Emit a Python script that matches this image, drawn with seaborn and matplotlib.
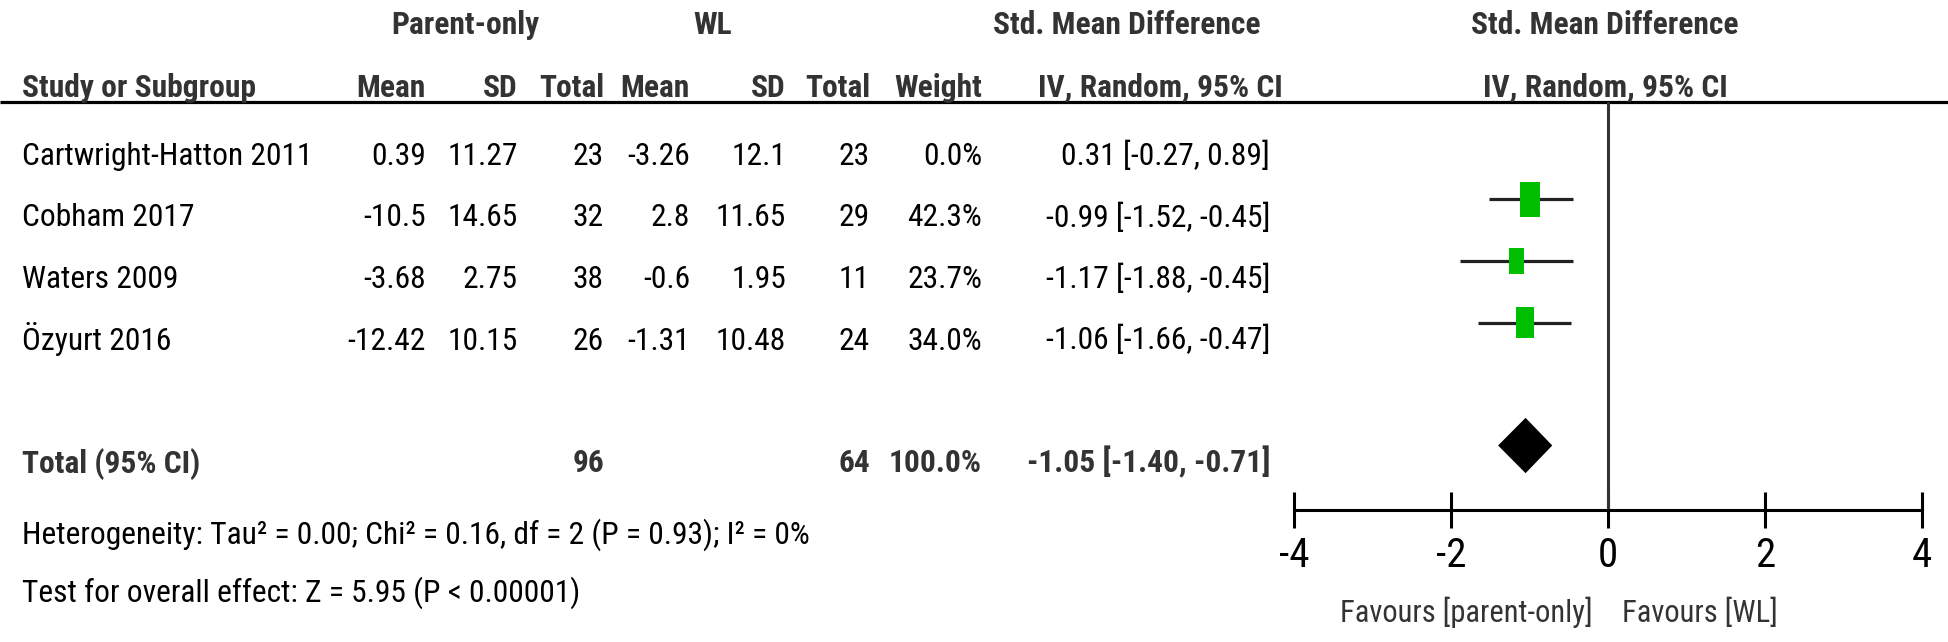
import numpy as np
import pandas as pd
import seaborn as sns
import matplotlib.pyplot as plt
from matplotlib import font_manager
from matplotlib.patches import Rectangle, Polygon

# study data
studies = ["Cartwright-Hatton 2011", "Cobham 2017", "Waters 2009", "Özyurt 2016"]
po_mean = ["0.39", "-10.5", "-3.68", "-12.42"]
po_sd = ["11.27", "14.65", "2.75", "10.15"]
po_n = [23, 32, 38, 26]
wl_mean = ["-3.26", "2.8", "-0.6", "-1.31"]
wl_sd = ["12.1", "11.65", "1.95", "10.48"]
wl_n = [23, 29, 11, 24]
weight = [0.0, 42.3, 23.7, 34.0]
smd = [0.31, -0.99, -1.17, -1.06]
ci_lo = [-0.27, -1.52, -1.88, -1.66]
ci_hi = [0.89, -0.45, -0.45, -0.47]

total_po = 96
total_wl = 64
total_weight = 100.0
total_smd = -1.05
total_lo = -1.40
total_hi = -0.71

heterogeneity = "Heterogeneity: Tau² = 0.00; Chi² = 0.16, df = 2 (P = 0.93); I² = 0%"
overall = "Test for overall effect: Z = 5.95 (P < 0.00001)"
xticks = [-4, -2, 0, 2, 4]

df = pd.DataFrame({"study": studies, "weight": weight, "smd": smd,
                   "lo": ci_lo, "hi": ci_hi})
df["row"] = np.arange(len(df))
total_row = len(df) + 1

sns.set_theme(style="white")
installed = {f.name for f in font_manager.fontManager.ttflist}
narrow = [f for f in ["Liberation Sans Narrow", "Arial Narrow", "Roboto Condensed",
                      "Roboto", "Liberation Sans"] if f in installed]
plt.rcParams["font.family"] = narrow[:1] + ["DejaVu Sans"]

W, H = 1949, 642
fig = plt.figure(figsize=(W / 100, H / 100), dpi=100)

# table layer in pixel coordinates
tab = fig.add_axes([0, 0, 1, 1])
tab.set_xlim(0, W)
tab.set_ylim(H, 0)
tab.axis("off")

# pick the font size so the study names are about as wide as in the original
probe = tab.text(0, 0, studies[0], fontsize=25)
fig.canvas.draw()
pw = probe.get_window_extent().width
probe.remove()
fs = min(28, 25 * 292 / pw)
hdr = "#333333"


def base(i):
    return 165 + 61.5 * i


def put(x, y, s, ha="right", bold=False, color="black"):
    tab.text(x, y, s, ha=ha, va="baseline", fontsize=fs,
             fontweight="bold" if bold else "normal", color=color)


# headers
put(465, 34, "Parent-only", ha="center", bold=True, color=hdr)
put(713, 34, "WL", ha="center", bold=True, color=hdr)
put(1127, 34, "Std. Mean Difference", ha="center", bold=True, color=hdr)
put(1605, 34, "Std. Mean Difference", ha="center", bold=True, color=hdr)

cols = [("Mean", 426), ("SD", 518), ("Total", 604), ("Mean", 690),
        ("SD", 786), ("Total", 870), ("Weight", 982)]
put(22, 97, "Study or Subgroup", ha="left", bold=True, color=hdr)
for name, x in cols:
    put(x, 97, name, bold=True, color=hdr)
put(1283, 97, "IV, Random, 95% CI", bold=True, color=hdr)
put(1605, 97, "IV, Random, 95% CI", ha="center", bold=True, color=hdr)
tab.plot([0, W], [102, 102], color="black", lw=2.3, solid_capstyle="butt")

for i, r in df.iterrows():
    y = base(i)
    put(22, y, r["study"], ha="left")
    put(426, y, po_mean[i])
    put(518, y, po_sd[i])
    put(604, y, str(po_n[i]))
    put(690, y, wl_mean[i])
    put(786, y, wl_sd[i])
    put(870, y, str(wl_n[i]))
    put(982, y, f"{weight[i]:.1f}%")
    put(1270, y, f"{smd[i]:.2f} [{ci_lo[i]:.2f}, {ci_hi[i]:.2f}]")

yt = base(total_row)
put(22, yt, "Total (95% CI)", ha="left", bold=True, color=hdr)
put(604, yt, str(total_po), bold=True, color=hdr)
put(870, yt, str(total_wl), bold=True, color=hdr)
put(982, yt, f"{total_weight:.1f}%", bold=True, color=hdr)
put(1270, yt, f"{total_smd:.2f} [{total_lo:.2f}, {total_hi:.2f}]", bold=True, color=hdr)
put(22, 544, heterogeneity, ha="left")
put(22, 602, overall, ha="left")

# forest panel
x0, x1 = 1294, 1922
ytop, ybot = 102, 510
ax = fig.add_axes([x0 / W, (H - ybot) / H, (x1 - x0) / W, (ybot - ytop) / H])
ax.set_xlim(-4, 4)
ax.set_ylim((ybot - 138) / 61.5, (ytop - 138) / 61.5)
ax.patch.set_alpha(0)
sns.despine(ax=ax, left=True, top=True, right=True)
ax.spines["bottom"].set_linewidth(2.2)
ax.spines["bottom"].set_color("black")
ax.set_yticks([])
ax.set_xticks(xticks)
ax.set_xticklabels([str(t) for t in xticks])
ax.tick_params(axis="x", bottom=True, direction="inout", length=26, width=2.2,
               colors="black", labelsize=fs * 1.3, pad=6)
ax.axvline(0, color="#333333", lw=2.2, zorder=1)

shown = df[df["weight"] > 0]
ax.hlines(shown["row"], shown["lo"], shown["hi"], color="#222222", lw=2.3, zorder=2)
for _, r in shown.iterrows():
    h = 0.087 * np.sqrt(r["weight"])
    w = 0.0386 * np.sqrt(r["weight"])
    ax.add_patch(Rectangle((r["smd"] - w / 2, r["row"] - h / 2), w, h,
                           facecolor="#00bf00", edgecolor="none", zorder=3))

dh = 0.45
ax.add_patch(Polygon([(total_lo, total_row), (total_smd, total_row - dh),
                      (total_hi, total_row), (total_smd, total_row + dh)],
                     closed=True, facecolor="black", edgecolor="none", zorder=3))

tab.text(1593, 622, "Favours [parent-only]", ha="right", va="baseline",
         fontsize=fs * 0.97, color="#333333")
tab.text(1622, 622, "Favours [WL]", ha="left", va="baseline",
         fontsize=fs * 0.97, color="#333333")

fig.savefig("out.png", dpi=100)
